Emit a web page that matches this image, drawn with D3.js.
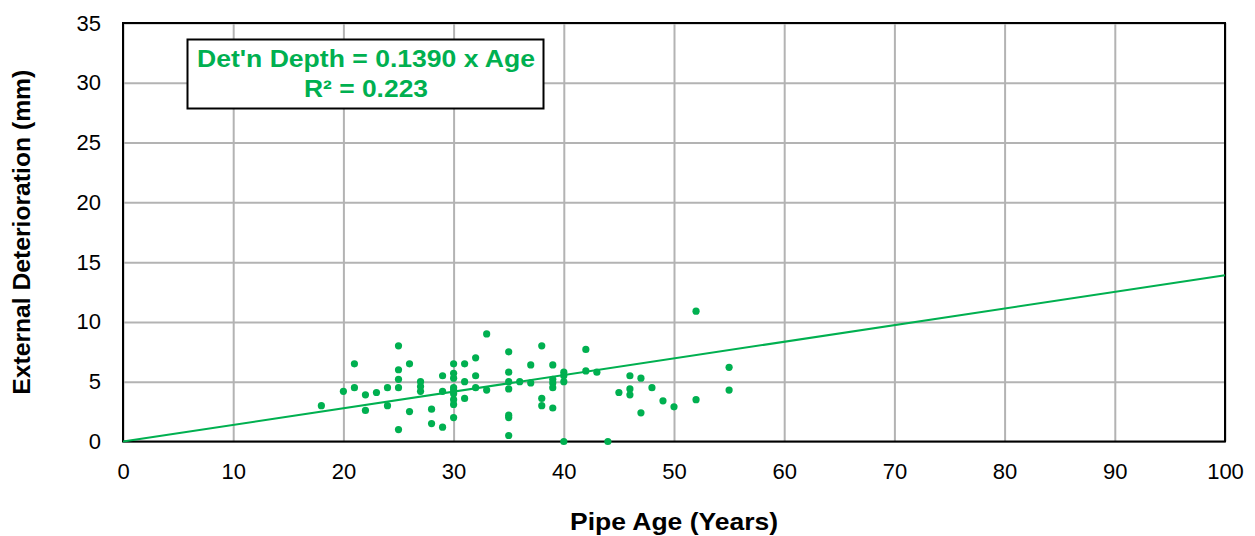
<!DOCTYPE html>
<html>
<head>
<meta charset="utf-8">
<script src="https://cdn.jsdelivr.net/npm/d3@7"></script>
<style>
  body { margin: 0; background: #fff; }
  svg { display: block; font-family: Arial, "Liberation Sans", sans-serif; }
</style>
</head>
<body>
<div id="chart"></div>
<script>
// pipe age (years) and external deterioration depth (mm)
const ages   = [18, 20, 21, 21, 22, 22, 23, 24, 24,
                25, 25, 25, 25, 25, 26, 26, 27, 27, 27, 28, 28, 29, 29, 29,
                30, 30, 30, 30, 30, 30, 30, 30, 30, 31, 31, 31, 32, 32, 32, 33, 33,
                35, 35, 35, 35, 35, 35, 35, 36, 37, 37, 38, 38, 38,
                39, 39, 39, 39, 39, 40, 40, 40, 40, 42, 42, 43, 44, 45,
                46, 46, 46, 47, 47, 48, 49, 50, 52, 52, 55, 55];
const depths = [3.0, 4.2, 6.5, 4.5, 3.9, 2.6, 4.1, 4.5, 3.0,
                8.0, 6.0, 5.2, 4.5, 1.0, 6.5, 2.5, 5.0, 4.6, 4.2, 2.7, 1.5, 5.5, 4.2, 1.2,
                6.5, 5.7, 5.3, 4.5, 4.0, 3.5, 3.1, 2.0, 4.3, 6.5, 5.0, 3.6, 7.0, 5.5, 4.5, 9.0, 4.3,
                7.5, 5.8, 5.0, 4.4, 2.2, 2.0, 0.5, 5.0, 6.4, 4.9, 8.0, 3.6, 3.0,
                6.4, 5.2, 4.9, 4.5, 2.8, 5.8, 5.5, 5.0, 0.0, 7.7, 5.9, 5.8, 0.0, 4.1,
                5.5, 4.4, 3.9, 5.3, 2.4, 4.5, 3.4, 2.9, 10.9, 3.5, 6.2, 4.3];

const slope = 0.1390;
const xTicks = [0, 10, 20, 30, 40, 50, 60, 70, 80, 90, 100];
const yTicks = [0, 5, 10, 15, 20, 25, 30, 35];
const eqLines = ["Det'n Depth = 0.1390 x Age", "R\u00b2 = 0.223"];

const w = 1255, h = 536;
const plotL = 123, plotR = 1225, plotT = 23, plotB = 441.5;
const green = "#00b050";

const x = d3.scaleLinear().domain([0, 100]).range([plotL, plotR]);
const y = d3.scaleLinear().domain([0, 35]).range([plotB, plotT]);

const svg = d3.select("#chart").append("svg")
  .attr("width", w)
  .attr("height", h);

// gridlines
svg.append("g")
  .attr("transform", "translate(0," + plotB + ")")
  .call(d3.axisBottom(x).tickValues(xTicks).tickSize(-(plotB - plotT)).tickFormat(""))
  .call(g => g.select(".domain").remove())
  .call(g => g.selectAll("line").attr("stroke", "#b3b3b3").attr("stroke-width", 2));

svg.append("g")
  .attr("transform", "translate(" + plotL + ",0)")
  .call(d3.axisLeft(y).tickValues(yTicks).tickSize(-(plotR - plotL)).tickFormat(""))
  .call(g => g.select(".domain").remove())
  .call(g => g.selectAll("line").attr("stroke", "#b3b3b3").attr("stroke-width", 2));

// tick labels
const xAxis = svg.append("g")
  .attr("transform", "translate(0," + plotB + ")")
  .call(d3.axisBottom(x).tickValues(xTicks).tickSize(0).tickPadding(22));
xAxis.select(".domain").remove();
xAxis.selectAll("text").attr("font-size", 22).attr("fill", "#000")
  .attr("font-family", "Arial, 'Liberation Sans', sans-serif");

const yAxis = svg.append("g")
  .attr("transform", "translate(" + plotL + ",0)")
  .call(d3.axisLeft(y).tickValues(yTicks).tickSize(0).tickPadding(22));
yAxis.select(".domain").remove();
yAxis.selectAll("text").attr("font-size", 22).attr("fill", "#000")
  .attr("font-family", "Arial, 'Liberation Sans', sans-serif");

// plot border
svg.append("rect")
  .attr("x", plotL).attr("y", plotT)
  .attr("width", plotR - plotL).attr("height", plotB - plotT)
  .attr("fill", "none").attr("stroke", "#000").attr("stroke-width", 2);

// trend line
svg.append("line")
  .attr("x1", x(0)).attr("y1", y(0))
  .attr("x2", x(100)).attr("y2", y(slope * 100))
  .attr("stroke", green).attr("stroke-width", 2);

// points
svg.append("g").selectAll("circle")
  .data(ages.map((a, i) => [a, depths[i]]))
  .enter()
  .append("circle")
  .attr("cx", d => x(d[0]))
  .attr("cy", d => y(d[1]))
  .attr("r", 3.6)
  .attr("fill", green);

// equation box
svg.append("rect")
  .attr("x", 187.5).attr("y", 39.5)
  .attr("width", 356).attr("height", 69)
  .attr("fill", "#fff").attr("stroke", "#000").attr("stroke-width", 2);

const eqWidths = [338, 124];
svg.append("g").selectAll("text")
  .data(eqLines)
  .enter()
  .append("text")
  .attr("x", 366)
  .attr("y", (d, i) => 67 + i * 29.5)
  .attr("text-anchor", "middle")
  .attr("font-size", 24)
  .attr("font-weight", "bold")
  .attr("fill", green)
  .attr("textLength", (d, i) => eqWidths[i])
  .attr("lengthAdjust", "spacingAndGlyphs")
  .text(d => d);

// axis titles
svg.append("text")
  .attr("x", (plotL + plotR) / 2)
  .attr("y", 530)
  .attr("text-anchor", "middle")
  .attr("font-size", 24)
  .attr("font-weight", "bold")
  .attr("textLength", 208)
  .attr("lengthAdjust", "spacingAndGlyphs")
  .text("Pipe Age (Years)");

svg.append("text")
  .attr("transform", "translate(30," + (plotT + plotB) / 2 + ") rotate(-90)")
  .attr("text-anchor", "middle")
  .attr("font-size", 24)
  .attr("font-weight", "bold")
  .attr("textLength", 325)
  .attr("lengthAdjust", "spacingAndGlyphs")
  .text("External Deterioration (mm)");
</script>
</body>
</html>
